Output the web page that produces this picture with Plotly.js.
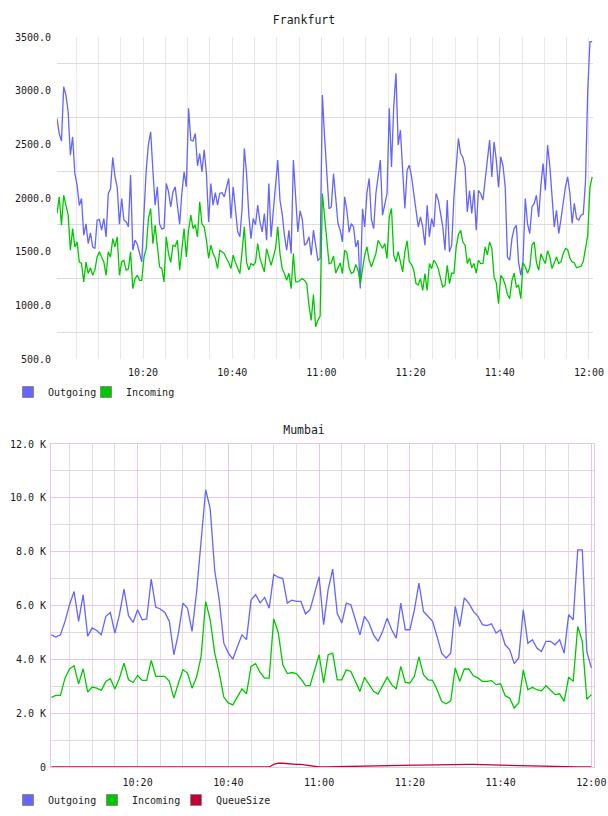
<!DOCTYPE html>
<html>
<head>
<meta charset="utf-8">
<script src="https://cdn.plot.ly/plotly-3.0.1.min.js"></script>
<style>
html,body{margin:0;padding:0;background:#fff;}
#top,#bottom{width:608px;height:408px;}
</style>
</head>
<body>
<div id="top"></div>
<div id="bottom"></div>
<script>
// ---------- Frankfurt (30 s samples) ----------
const FRA_START = '2024-01-01 10:00:43';
const FRA_STEP_SEC = 30;
const FRA_RANGE = ['2024-01-01 10:00:43', '2024-01-01 12:00:54'];
const FRA_Y_TICKS = [500, 1000, 1500, 2000, 2500, 3000, 3500];

const fraOutgoing = [
 2741,2600,2530,3037,2959,2804,2399,2570,2228,2120,
 1930,1995,1653,1760,1575,1675,1544,1529,1793,1800,
 1700,1809,1638,2042,2088,2378,2198,2100,1756,1995,
 1793,1780,1731,2213,1513,1607,1570,1482,1405,1850,
 2259,2500,2617,2259,1933,2104,1756,1710,1720,2135,
 2060,1918,2057,2104,1902,1756,2050,2244,2104,2835,
 2539,2530,2601,2300,2415,2244,2450,2228,1777,2135,
 1933,2050,1933,2042,2050,2011,2100,2182,1809,2104,
 1900,1690,1638,1900,2462,2228,1850,1622,1809,1750,
 1933,1780,1684,1855,1607,2135,1638,1855,2073,2353,
 1980,1850,1650,1513,1700,1482,2353,2000,1684,1880,
 1800,1560,1580,1638,1467,1700,1560,1420,1436,2959,
 2570,2259,1900,1917,2228,2000,1762,1700,1591,2011,
 1886,1680,1762,1731,1544,1607,1156,1900,1731,2050,
 2182,1800,1715,2042,2228,2353,1840,1948,2042,2835,
 2290,2850,3161,2493,2632,2259,1902,2259,2306,2197,
 2042,1900,1731,1824,1731,1560,1933,1638,1809,1731,
 2042,1980,1855,1731,1513,1980,1498,1560,2011,2300,
 2555,2415,2380,2290,1871,2070,1855,2073,1700,2070,
 2040,1980,2180,2400,2539,2197,2524,2353,2100,2384,
 2300,2104,1451,1420,1622,1715,1746,1400,1280,1420,
 1995,1762,1669,1917,1949,2026,1824,2120,2322,2073,
 2493,2300,2011,1731,1886,1669,1800,1960,2104,2197,
 2042,1762,1950,1809,1795,1840,1850,2150,3000,3456,3456
];
const fraIncoming = [
 1855,2011,1747,2026,1933,1840,1513,1715,1544,1591,
 1405,1389,1218,1405,1296,1350,1280,1330,1451,1498,
 1450,1405,1280,1498,1450,1622,1544,1638,1280,1405,
 1420,1327,1340,1498,1156,1249,1280,1233,1233,1450,
 1529,1809,1902,1575,1747,1550,1358,1342,1218,1638,
 1482,1400,1560,1550,1607,1327,1498,1715,1451,1700,
 1840,1715,1750,1638,1964,1760,1731,1607,1440,1560,
 1482,1440,1342,1513,1500,1482,1436,1400,1342,1467,
 1400,1342,1296,1500,1731,1404,1330,1389,1373,1400,
 1575,1440,1380,1311,1529,1460,1373,1450,1530,1731,
 1480,1340,1296,1233,1300,1156,1482,1220,1218,1233,
 1250,1233,1202,1000,860,1100,800,860,900,2042,
 1800,1580,1389,1395,1460,1300,1340,1395,1296,1513,
 1490,1350,1296,1310,1380,1327,1202,1327,1470,1544,
 1420,1360,1420,1482,1606,1560,1529,1575,1436,1824,
 1902,1467,1405,1500,1405,1311,1500,1600,1405,1380,
 1327,1202,1190,1249,1140,1296,1140,1389,1342,1420,
 1390,1342,1250,1171,1187,1373,1202,1300,1296,1540,
 1660,1700,1590,1560,1389,1440,1350,1389,1300,1420,
 1389,1390,1544,1470,1591,1530,1265,1210,1016,1280,
 1249,1190,1100,1062,1230,1300,1171,1187,1062,1395,
 1360,1300,1350,1560,1591,1400,1327,1480,1430,1389,
 1510,1450,1342,1400,1450,1389,1404,1480,1529,1520,
 1440,1404,1395,1350,1358,1365,1410,1550,1650,2100,2197
];

// ---------- Mumbai (1 min samples, values in thousands) ----------
const MUM_START = '2024-01-01 10:01:00';
const MUM_STEP_SEC = 60;
const MUM_RANGE = ['2024-01-01 10:00:55', '2024-01-01 12:00:35'];
const MUM_Y_TICKS = [0, 2, 4, 6, 8, 10, 12];
const MUM_Y_LABELS = ['0', '2.0 K', '4.0 K', '6.0 K', '8.0 K', '10.0 K', '12.0 K'];

const mumOutgoing = [
 4.91,4.83,4.91,5.41,6.03,6.52,5.41,6.40,4.86,5.17,
 5.07,4.91,5.60,5.74,4.97,5.66,6.61,5.62,5.37,5.84,
 5.47,5.50,6.98,5.94,5.87,5.74,5.41,4.17,4.97,6.09,
 5.90,5.04,6.50,8.30,10.30,9.60,7.30,6.20,4.60,4.23,
 4.01,4.48,4.91,4.73,6.20,6.40,6.10,6.30,5.90,7.15,
 7.05,7.00,6.09,6.20,6.15,6.15,5.69,5.84,6.50,7.07,
 5.29,6.60,7.35,5.70,5.35,6.09,6.03,5.47,4.91,5.60,
 5.35,4.91,4.67,5.04,5.53,5.10,4.79,6.09,5.10,5.10,
 5.84,6.83,5.78,5.60,5.41,4.85,4.23,4.05,4.23,5.97,
 5.22,6.28,6.09,5.78,5.60,5.29,5.25,5.32,4.98,5.10,
 4.54,4.36,3.84,4.05,5.84,4.60,4.73,4.42,4.29,4.67,
 4.67,4.54,4.73,4.23,5.66,5.47,8.07,8.07,4.29,3.68
];
const mumIncoming = [
 2.59,2.66,2.66,3.30,3.64,3.76,3.09,3.65,2.78,2.97,
 2.93,2.85,3.18,3.28,2.90,3.30,3.86,3.24,3.14,3.40,
 3.22,3.22,3.96,3.37,3.37,3.37,3.18,2.56,3.12,3.61,
 3.49,2.93,3.34,4.11,6.15,5.47,4.23,3.49,2.60,2.38,
 2.31,2.60,2.90,2.72,3.74,3.84,3.51,3.30,3.30,5.50,
 5.00,3.80,3.47,3.51,3.47,3.27,3.02,3.02,3.55,4.17,
 3.12,4.17,4.23,3.24,3.24,3.61,3.55,3.18,2.81,3.33,
 3.06,2.81,2.71,3.02,3.33,3.06,2.90,3.74,3.14,3.12,
 3.37,4.09,3.43,3.24,3.22,2.87,2.44,2.35,2.46,3.68,
 3.18,3.64,3.64,3.39,3.31,3.18,3.18,3.21,3.06,3.09,
 2.65,2.56,2.19,2.38,3.61,2.87,2.96,2.87,2.83,3.02,
 2.87,2.69,2.72,2.44,3.34,3.18,5.22,4.67,2.52,2.69
];
const mumQueueSize = [
 0,0,0,0,0,0,0,0,0,0,
 0,0,0,0,0,0,0,0,0,0,
 0,0,0,0,0,0,0,0,0,0,
 0,0,0,0,0,0,0,0,0,0,
 0,0,0,0,0,0,0,0,0,0.10,
 0.14,0.14,0.12,0.11,0.10,0.10,0.07,0.05,0.03,0.00,
 0.00,0.005,0.01,0.01,0.015,0.02,0.02,0.025,0.03,0.03,
 0.035,0.04,0.04,0.045,0.05,0.05,0.055,0.06,0.06,0.065,
 0.07,0.07,0.075,0.08,0.08,0.085,0.09,0.09,0.09,0.095,
 0.10,0.10,0.10,0.095,0.09,0.09,0.085,0.08,0.075,0.07,
 0.065,0.06,0.055,0.05,0.045,0.04,0.035,0.03,0.025,0.02,
 0.015,0.01,0.01,0.005,0.00,0,0,0,0,0
];

const SERIES_NAMES = ['Outgoing', 'Incoming', 'QueueSize'];
const SERIES_COLORS = ['#6464ff', '#00c800', '#c80032'];

// ---------- helpers ----------
function timeAxis(start, stepSec, n) {
  const t0 = new Date(start.replace(' ', 'T') + 'Z').getTime();
  const out = [];
  for (let i = 0; i < n; i++) {
    const d = new Date(t0 + i * stepSec * 1000);
    out.push(d.toISOString().replace('T', ' ').slice(0, 19));
  }
  return out;
}
const FONT = 'DejaVu Sans Mono, monospace';
const TXT = '#1a1a1a';

function lineTrace(x, y, k) {
  return {x: x, y: y, type: 'scatter', mode: 'lines', showlegend: false,
          line: {color: SERIES_COLORS[k], width: 1.3}, hoverinfo: 'skip'};
}
function legendTrace(k) {
  return {x: [null], y: [null], type: 'scatter', mode: 'markers', name: SERIES_NAMES[k],
          marker: {symbol: 'square', size: 11, color: SERIES_COLORS[k], line: {color: '#888', width: 1}}};
}
// invisible trailing legend entry so the last label is not clipped
function legendSpacer() {
  return {x: [null], y: [null], type: 'scatter', mode: 'markers', name: ' ',
          marker: {symbol: 'square', size: 1, color: 'rgba(0,0,0,0)', line: {width: 0}}};
}
function legendBox(entryW) {
  return {orientation: 'h', xref: 'container', yref: 'container', x: 8/608, y: 1 - 392/408,
          xanchor: 'left', yanchor: 'middle', font: {family: FONT, size: 10, color: TXT},
          itemwidth: 30, tracegroupgap: 0, entrywidth: entryW, entrywidthmode: 'pixels',
          bgcolor: 'rgba(0,0,0,0)'};
}

// ---------- Frankfurt chart ----------
const fx = timeAxis(FRA_START, FRA_STEP_SEC, fraOutgoing.length);
Plotly.newPlot('top', [
  lineTrace(fx, fraOutgoing, 0),
  lineTrace(fx, fraIncoming, 1),
  legendTrace(0), legendTrace(1), legendSpacer()
], {
  width: 608, height: 408,
  margin: {l: 57, r: 15, t: 37, b: 49},
  paper_bgcolor: '#fff', plot_bgcolor: '#fff',
  font: {family: FONT, size: 10, color: TXT},
  title: {text: 'Frankfurt', font: {family: FONT, size: 11.5, color: TXT},
          x: 0.5, xref: 'container', xanchor: 'center', y: 1 - 20/408, yref: 'container', yanchor: 'middle'},
  xaxis: {type: 'date', range: FRA_RANGE, tickformat: '%H:%M', tick0: '2024-01-01 10:00:00', dtick: 20*60000,
          showgrid: true, gridcolor: '#e4e4e4', gridwidth: 1, zeroline: false, showline: false, ticks: '',
          ticklabelstandoff: 6, tickfont: {family: FONT, size: 10, color: TXT},
          minor: {tick0: '2024-01-01 10:00:00', dtick: 5*60000, showgrid: true, gridcolor: '#e8e8e8', gridwidth: 1}},
  yaxis: {range: [500, 3500], tickmode: 'array', tickvals: FRA_Y_TICKS, tickformat: '.1f', showgrid: false,
          zeroline: false, showline: false, ticks: '', ticklabelstandoff: 5,
          tickfont: {family: FONT, size: 10, color: TXT},
          minor: {tickmode: 'linear', tick0: 750, dtick: 500, showgrid: true, gridcolor: '#dcdcdc', gridwidth: 1}},
  legend: legendBox(33)
}, {staticPlot: true});

// ---------- Mumbai chart ----------
const mx = timeAxis(MUM_START, MUM_STEP_SEC, mumOutgoing.length);
const PINK = '#e6c8e6';
Plotly.newPlot('bottom', [
  lineTrace(mx, mumOutgoing, 0),
  lineTrace(mx, mumIncoming, 1),
  lineTrace(mx, mumQueueSize, 2),
  legendTrace(0), legendTrace(1), legendTrace(2), legendSpacer()
], {
  width: 608, height: 408,
  margin: {l: 51, r: 14, t: 36, b: 49},
  paper_bgcolor: '#fff', plot_bgcolor: '#fff',
  font: {family: FONT, size: 10, color: TXT},
  title: {text: 'Mumbai', font: {family: FONT, size: 11.5, color: TXT},
          x: 0.5, xref: 'container', xanchor: 'center', y: 1 - 22/408, yref: 'container', yanchor: 'middle'},
  xaxis: {type: 'date', range: MUM_RANGE, tickformat: '%H:%M', tick0: '2024-01-01 10:00:00', dtick: 20*60000,
          showgrid: true, gridcolor: PINK, gridwidth: 1, zeroline: false, showline: true, mirror: true,
          linecolor: PINK, linewidth: 1, ticks: '', layer: 'below traces',
          ticklabelstandoff: 6, tickfont: {family: FONT, size: 10, color: TXT},
          minor: {tick0: '2024-01-01 10:00:00', dtick: 5*60000, showgrid: true, gridcolor: '#e0e0e0', gridwidth: 1}},
  yaxis: {range: [0, 12], tickmode: 'array', tickvals: MUM_Y_TICKS, ticktext: MUM_Y_LABELS,
          showgrid: true, gridcolor: PINK, gridwidth: 1, zeroline: false, showline: true, mirror: true,
          linecolor: PINK, linewidth: 1, ticks: '', layer: 'below traces', ticklabelstandoff: 2,
          tickfont: {family: FONT, size: 10, color: TXT},
          minor: {tickmode: 'linear', tick0: 0, dtick: 1, showgrid: true, gridcolor: '#dcdcdc', gridwidth: 1}},
  legend: legendBox(39)
}, {staticPlot: true});
</script>
</body>
</html>
